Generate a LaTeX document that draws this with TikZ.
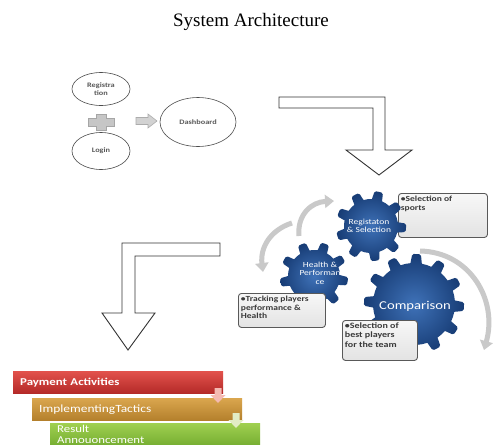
\documentclass[tikz,border=0pt]{standalone}
\usepackage{fontspec}
\setmainfont{Liberation Serif}
\newfontfamily\calib{Carlito}
\newfontfamily\calibw[FakeStretch=1.22]{Carlito}
\usetikzlibrary{arrows.meta,shapes.geometric}
\definecolor{gearin}{HTML}{3F72B8}
\definecolor{gearout}{HTML}{173C75}
\definecolor{boxtxt}{HTML}{3A3A3A}
\definecolor{redtop}{RGB}{226,82,76}
\definecolor{redbot}{RGB}{180,42,40}
\definecolor{ortop}{RGB}{218,166,78}
\definecolor{orbot}{RGB}{180,128,44}
\definecolor{grtop}{RGB}{160,208,80}
\definecolor{grbot}{RGB}{118,174,50}
\definecolor{pinkarr}{RGB}{244,186,178}
\definecolor{palearr}{RGB}{226,236,196}
\newcommand{\mygear}[5]{%
  (0:#2)
  \foreach \i [evaluate=\i as \n using {(\i-1)*360/#1}] in {1,...,#1}{%
    arc (\n:\n+#4:#2) {[rounded corners=1.5pt] -- (\n+#4+#5:#3)
    arc (\n+#4+#5:\n+360/#1-#5:#3)} -- (\n+360/#1:#2)
  }%
}
\tikzset{
  oval/.style={draw=black!70, line width=0.6pt, ellipse, inner sep=0pt, align=center,
    font=\calibw\bfseries\fontsize{6.8}{7.4}\selectfont, text=black!65},
  bentarrow/.style={draw=black!80, line width=0.9pt, fill=white, line join=miter},
  grayarc/.style={line width=5pt, draw=gray!42, -{Triangle[width=13pt,length=9pt]}},
  callout/.style={draw=black!65, line width=0.9pt, rounded corners=3pt,
    top color=gray!6, bottom color=gray!22, anchor=north west, inner sep=2.5pt,
    font=\calibw\bfseries\fontsize{7.8}{8.6}\selectfont, text=boxtxt, align=left},
  geartext/.style={text=white, align=center, font=\calibw\fontsize{7.8}{8.4}\selectfont},
  listbar/.style={anchor=north west, minimum height=22pt, inner xsep=7pt, inner ysep=1pt,
    text width=196pt, align=left, text=white, font=\calibw\bfseries\fontsize{10.5}{11}\selectfont}
}
\begin{document}
\begin{tikzpicture}[x=1pt,y=-1pt]
\useasboundingbox (0,0) rectangle (499,445);
\fill[white] (0,0) rectangle (499,445);

% title
\node[font=\fontsize{19}{21}\selectfont] (title) at (251,22) {System Architecture};

% top left flow
\node[oval, minimum width=58pt, minimum height=33pt] (reg) at (101,89) {Registra\\tion};
\node[oval, minimum width=58pt, minimum height=37pt] (login) at (101,151) {Login};
\node[oval, minimum width=76pt, minimum height=49pt] (dash) at (198,122) {Dashboard};
\coordinate (plusc) at (101,122);
\filldraw[fill=gray!45, draw=gray!70, line width=0.6pt]
  ([shift={(-13,-4)}]plusc) -- ([shift={(-5,-4)}]plusc) -- ([shift={(-5,-8)}]plusc)
  -- ([shift={(5,-8)}]plusc) -- ([shift={(5,-4)}]plusc) -- ([shift={(13,-4)}]plusc)
  -- ([shift={(13,4)}]plusc) -- ([shift={(5,4)}]plusc) -- ([shift={(5,8)}]plusc)
  -- ([shift={(-5,8)}]plusc) -- ([shift={(-5,4)}]plusc) -- ([shift={(-13,4)}]plusc) -- cycle;
\coordinate (sarr) at (136,121);
\filldraw[fill=gray!35, draw=gray!65, line width=0.6pt]
  ([shift={(0,-3.5)}]sarr) -- ([shift={(12,-3.5)}]sarr) -- ([shift={(12,-7)}]sarr)
  -- ([shift={(21,0)}]sarr) -- ([shift={(12,7)}]sarr) -- ([shift={(12,3.5)}]sarr)
  -- ([shift={(0,3.5)}]sarr) -- cycle;

% bent arrow 1
\draw[bentarrow] (279,97) -- (385,97) -- (385,150) -- (412,150) -- (379,175)
  -- (346,150) -- (373,150) -- (373,108) -- (279,108) -- cycle;
% bent arrow 2
\draw[bentarrow] (220,243) -- (122,243) -- (122,313) -- (102,313) -- (128,350)
  -- (155,313) -- (135,313) -- (135,256) -- (220,256) -- cycle;

% gray arcs
\coordinate (a1s) at (299,236);
\coordinate (a1e) at (334,201);
\draw[grayarc] (a1s) .. controls (297,214) and (312,202) .. (a1e);
\coordinate (a2s) at (292,223);
\coordinate (a2e) at (263,272);
\draw[grayarc] (a2s) .. controls (270,230) and (260,248) .. (a2e);
\coordinate (a3s) at (420,251);
\coordinate (a3e) at (484,350);
\draw[grayarc] (a3s) .. controls (470,252) and (498,300) .. (a3e);

% sports callout (behind gear)
\node[callout] (cb1) at (398,193) {\parbox[c][39pt][t]{84pt}{\textbullet Selection of\\sports}};

% gears
\begin{scope}[shift={(371,226)}, rotate=8]
  \shade[inner color=gearin, outer color=gearout] \mygear{9}{27pt}{35pt}{18}{4};
\end{scope}
\begin{scope}[shift={(314,276)}, rotate=2]
  \shade[inner color=gearin, outer color=gearout] \mygear{9}{26pt}{34pt}{18}{4};
\end{scope}
\begin{scope}[shift={(414,304)}, rotate=5]
  \shade[inner color=gearin, outer color=gearout] \mygear{12}{41pt}{50pt}{14}{3};
\end{scope}
\node[geartext] (g1) at (369,226) {Registaton\\\& Selection};
\node[geartext] (g2) at (320,273) {Health \&\\Performan\\ce};
\node[geartext, font=\calibw\fontsize{12}{13}\selectfont] (g3) at (415,306) {Comparison};

% other callouts
\node[callout] (cb2) at (238,293) {\parbox[c][29pt][t]{82pt}{\textbullet Tracking players\\performance \&\\Health}};
\node[callout, font=\calibw\bfseries\fontsize{8.2}{9.2}\selectfont] (cb3) at (342,320) {\parbox[c][35pt][t]{70pt}{\textbullet Selection of\\best players\\for the team}};

% bottom list
\node[listbar, top color=redtop, bottom color=redbot] (pay) at (13,371) {Payment Activities};
\node[listbar, top color=ortop, bottom color=orbot, font=\calibw\fontsize{11}{11.5}\selectfont] (impl) at (32,398) {ImplementingTactics};
\node[listbar, top color=grtop, bottom color=grbot, font=\calibw\fontsize{10.5}{11}\selectfont] (res) at (50,423) {Result\\Annouoncement};

\coordinate (d1) at (218,388);
\fill[pinkarr] ([shift={(-3.5,0)}]d1) -- ([shift={(3.5,0)}]d1) -- ([shift={(3.5,7)}]d1)
  -- ([shift={(7.5,7)}]d1) -- ([shift={(0,15)}]d1) -- ([shift={(-7.5,7)}]d1) -- ([shift={(-3.5,7)}]d1) -- cycle;
\coordinate (d2) at (236,413);
\fill[palearr] ([shift={(-3.5,0)}]d2) -- ([shift={(3.5,0)}]d2) -- ([shift={(3.5,7)}]d2)
  -- ([shift={(7.5,7)}]d2) -- ([shift={(0,15)}]d2) -- ([shift={(-7.5,7)}]d2) -- ([shift={(-3.5,7)}]d2) -- cycle;
\end{tikzpicture}
\end{document}
